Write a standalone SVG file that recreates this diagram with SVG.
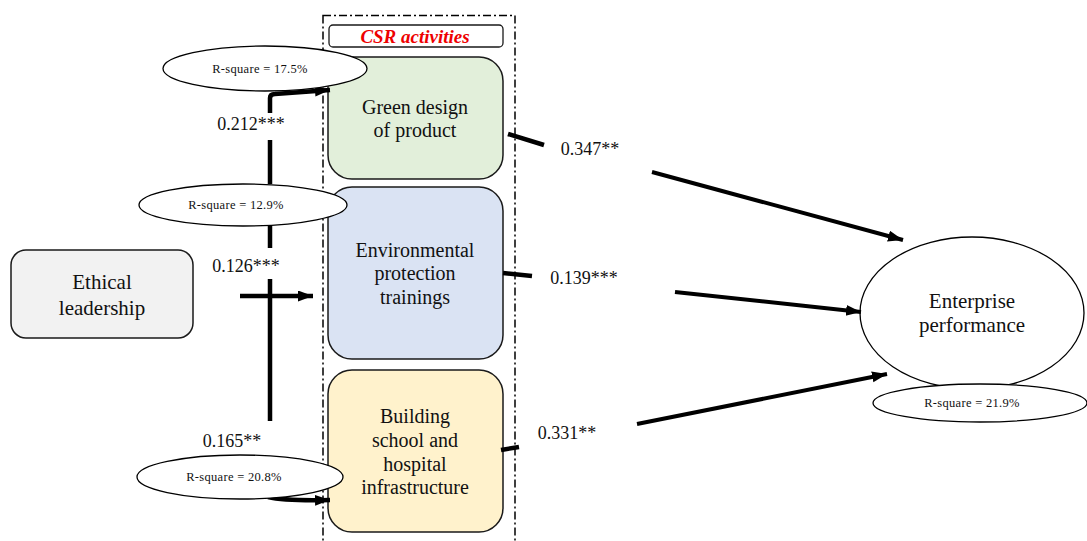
<svg xmlns="http://www.w3.org/2000/svg" width="1087" height="541" viewBox="0 0 1087 541">
<defs>
<marker id="ah" markerUnits="userSpaceOnUse" markerWidth="16" markerHeight="12" refX="15" refY="5.5" orient="auto">
<path d="M0,0 L15,5.5 L0,11 z" fill="#000"/>
</marker>
<style>
.t{font-family:"Liberation Serif","Times New Roman",serif;fill:#111;text-anchor:middle}
.box{stroke:#1a1a1a;stroke-width:1.5}
.ell{fill:#fff;stroke:#000;stroke-width:1.3}
.rs{font-size:12.5px;letter-spacing:0.3px}
.lab{font-size:18px}
.nt{font-size:20px}
.c{fill:none;stroke:#000;stroke-width:4.5}
</style>
</defs>
<rect width="1087" height="541" fill="#fff"/>
<g id="csr-container">
<rect x="323" y="15.5" width="192" height="540" fill="none" stroke="#000" stroke-width="1.5" stroke-dasharray="8 3 2 3"/>
<rect x="329" y="25" width="174" height="22" rx="4" fill="#fff" stroke="#1a1a1a" stroke-width="1.3"/>
<text x="415" y="43" style="font-family:'Liberation Serif','Times New Roman',serif;font-size:19px;font-weight:bold;font-style:italic;fill:#ee0000;text-anchor:middle">CSR activities</text>
</g>
<g id="green-design">
<rect class="box" x="328" y="57" width="175" height="122" rx="24" fill="#e2efda"/>
<text class="t nt" x="415" y="114">Green design</text>
<text class="t nt" x="415" y="137">of product</text>
</g>
<g id="env-training">
<rect class="box" x="328" y="187" width="175" height="172" rx="24" fill="#dae3f3"/>
<text class="t nt" x="415" y="257">Environmental</text>
<text class="t nt" x="415" y="280">protection</text>
<text class="t nt" x="415" y="304">trainings</text>
</g>
<g id="building">
<rect class="box" x="328" y="370" width="175" height="162" rx="24" fill="#fff2cc"/>
<text class="t nt" x="415" y="423">Building</text>
<text class="t nt" x="415" y="447">school and</text>
<text class="t nt" x="415" y="471">hospital</text>
<text class="t nt" x="415" y="494">infrastructure</text>
</g>
<g id="ethical">
<rect class="box" x="11" y="250" width="182" height="88" rx="15" fill="#f2f2f2"/>
<text class="t" style="font-size:21px" x="102" y="289">Ethical</text>
<text class="t" style="font-size:21px" x="102" y="315">leadership</text>
</g>
<g id="enterprise">
<ellipse class="ell" cx="972" cy="313" rx="112" ry="76"/>
<text class="t" style="font-size:21px" x="972" y="308">Enterprise</text>
<text class="t" style="font-size:21px" x="972" y="332">performance</text>
</g>
<g id="connectors">
<path class="c" d="M270,113 V98 Q270,94 275,94 L330,90" marker-end="url(#ah)"/>
<path class="c" d="M270,140 V184"/>
<path class="c" d="M270,226 V248"/>
<path class="c" d="M270,279 V421"/>
<path class="c" d="M268,497 Q285,501 330,500" marker-end="url(#ah)"/>
<path class="c" d="M240,296 H313" marker-end="url(#ah)"/>
<path class="c" d="M508,134 L544,145"/>
<path class="c" d="M503,273 L532,276"/>
<path class="c" d="M501,450 L519,447"/>
<path class="c" style="stroke-width:4" d="M652,172 L903,240" marker-end="url(#ah)"/>
<path class="c" style="stroke-width:4" d="M675,292 L861,312" marker-end="url(#ah)"/>
<path class="c" style="stroke-width:4" d="M637,424 L887,374" marker-end="url(#ah)"/>
</g>
<g id="path-labels">
<text class="t lab" x="251" y="130">0.212***</text>
<text class="t lab" x="246" y="272">0.126***</text>
<text class="t lab" x="232" y="447">0.165**</text>
<text class="t lab" x="590" y="155">0.347**</text>
<text class="t lab" x="584" y="284">0.139***</text>
<text class="t lab" x="567" y="439">0.331**</text>
</g>
<g id="rsq-green">
<ellipse class="ell" cx="265" cy="68.5" rx="102" ry="22.5"/>
<text class="t rs" x="260" y="73">R-square = 17.5%</text>
</g>
<g id="rsq-env">
<ellipse class="ell" cx="243" cy="205" rx="104" ry="21"/>
<text class="t rs" x="236" y="209">R-square = 12.9%</text>
</g>
<g id="rsq-building">
<ellipse class="ell" cx="240" cy="477" rx="103" ry="22"/>
<text class="t rs" x="234" y="481">R-square = 20.8%</text>
</g>
<g id="rsq-enterprise">
<ellipse class="ell" cx="980" cy="403" rx="107" ry="19"/>
<text class="t rs" x="972" y="407">R-square = 21.9%</text>
</g>
</svg>
